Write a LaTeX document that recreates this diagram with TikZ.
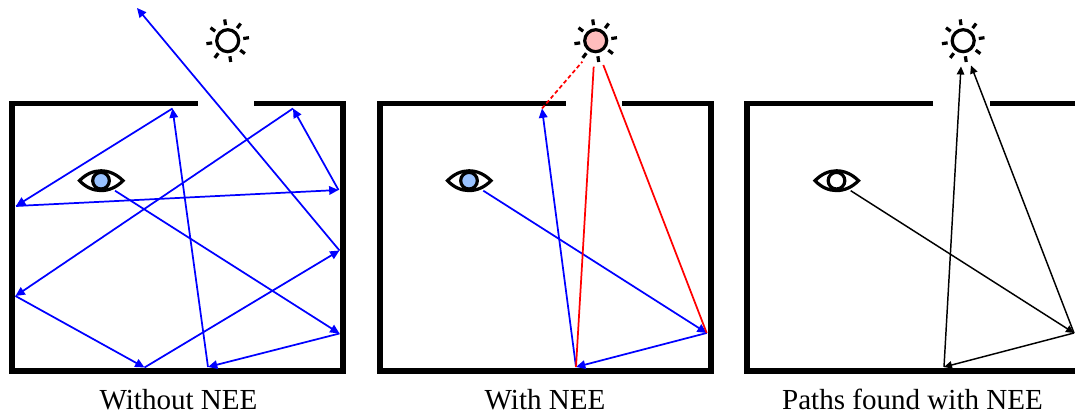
\documentclass[tikz,border=0pt]{standalone}
\usepackage{fontspec}
\setmainfont{Liberation Serif}
\usetikzlibrary{arrows.meta}
\definecolor{irisblue}{HTML}{99C2FF}
\definecolor{sunpink}{HTML}{FFBDBD}

\begin{document}
\begin{tikzpicture}[
  x=0.75pt, y=-0.75pt,
  font=\fontsize{21.8}{24}\selectfont,
  wall/.style={draw, line width=4.2pt},
  iconline/.style={draw, line width=2.4pt},
  ring/.style={circle, draw, line width=2.4pt, inner sep=0pt},
  bluearrow/.style={-{Triangle[length=7pt,width=6.4pt]}, blue, line width=1.3pt},
  redline/.style={red, line width=1.3pt},
  blackarrow/.style={-{Triangle[length=6pt,width=5.6pt]}, line width=1.1pt},
  caption/.style={anchor=base, inner sep=0pt}
]

\useasboundingbox (0,0) rectangle (1075,416);

% walls, eye and light of the three panels
\foreach \dx/\nm/\irisfill/\sunfill in {0/a/irisblue/white, 368/b/irisblue/sunpink, 735.5/c/white/white} {
  \begin{scope}[shift={(\dx,0)}]
    \draw[wall] (197.7,103.5) -| (11.7,371) -| (343,103.5) -- (254.3,103.5);
    \draw[iconline] (79.5,180.7) .. controls (92,167.5) and (110,167.5) .. (123,180.7)
                    .. controls (110,193.9) and (92,193.9) .. cycle;
    \node[ring, fill=\irisfill, minimum size=12.5pt] (\nm-eye) at (101,180.7) {};
    \node[ring, fill=\sunfill, minimum size=16.5pt] (\nm-sun) at (227.7,40.7) {};
    \foreach \ang in {8,53,98,143,188,233,278,323}
      \draw[iconline] (\nm-sun.center) ++(-\ang:15.7) -- ++(-\ang:5.8);
  \end{scope}
}

% left panel
\coordinate (a1) at (115,190.7);
\coordinate (a2) at (339.5,333.5);
\coordinate (a3) at (208,367);
\coordinate (a4) at (172.5,108.5);
\coordinate (a5) at (16,206);
\coordinate (a6) at (338.5,190);
\coordinate (a7) at (293,108.5);
\coordinate (a8) at (15.5,296);
\coordinate (a9) at (144.5,367.5);
\coordinate (a10) at (339.5,250.5);
\coordinate (a11) at (137,8);
\foreach \u/\v in {a1/a2,a2/a3,a3/a4,a4/a5,a5/a6,a6/a7,a7/a8,a8/a9,a9/a10,a10/a11}
  \draw[bluearrow] (\u) -- (\v);

% middle panel
\coordinate (b1) at (483.3,190.7);
\coordinate (b2) at (706.7,333);
\coordinate (b3) at (576,367);
\coordinate (b4) at (542,108.5);
\coordinate (b5) at (603.3,65);
\coordinate (b6) at (593.7,66.7);
\coordinate (b7) at (582.3,61.7);
\foreach \u/\v in {b1/b2,b2/b3,b3/b4}
  \draw[bluearrow] (\u) -- (\v);
\draw[redline] (b2) -- (b5);
\draw[redline] (b3) -- (b6);
\draw[redline, densely dashed] (b4) -- (b7);

% right panel
\coordinate (c1) at (850.7,190.7);
\coordinate (c2) at (1074,333);
\coordinate (c3) at (944,367);
\coordinate (c4) at (961,66.5);
\coordinate (c5) at (971,65.5);
\foreach \u/\v in {c1/c2,c2/c3,c3/c4,c2/c5}
  \draw[blackarrow] (\u) -- (\v);

\node[caption] (capa) at (178.5,410) {Without NEE};
\node[caption] (capb) at (545,410) {With NEE};
\node[caption] (capc) at (912.5,410) {Paths found with NEE};

\end{tikzpicture}
\end{document}
